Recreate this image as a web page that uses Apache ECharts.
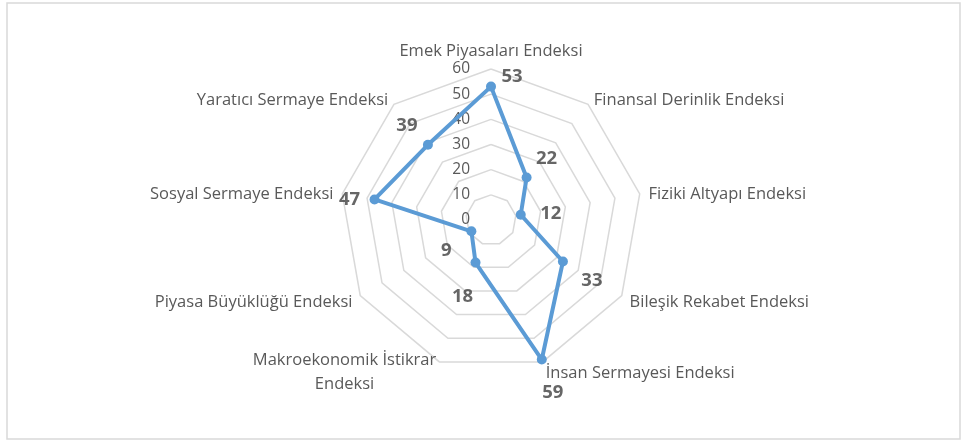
<!DOCTYPE html>
<html>
<head>
<meta charset="utf-8">
<script src="https://cdn.jsdelivr.net/npm/echarts@6/dist/echarts.min.js"></script>
<style>
  html, body { margin: 0; padding: 0; background: #ffffff; }
  #chart { width: 961px; height: 440px; }
</style>
</head>
<body>
<div id="chart"></div>
<script>
// Index names, listed clockwise starting from the top axis
const categories = [
  'Emek Piyasaları Endeksi',
  'Finansal Derinlik Endeksi',
  'Fiziki Altyapı Endeksi',
  'Bileşik Rekabet Endeksi',
  'İnsan Sermayesi Endeksi',
  'Makroekonomik İstikrar\nEndeksi',
  'Piyasa Büyüklüğü Endeksi',
  'Sosyal Sermaye Endeksi',
  'Yaratıcı Sermaye Endeksi'
];
// Score of each index, same order as above
const values = [53, 22, 12, 33, 59, 18, 9, 47, 39];
// Scale of the spokes
const axisMin = 0;
const axisMax = 60;
const axisStep = 10;

// Pixel nudges for the value labels (outward from each point)
const labelOffsets = [
  [21, -10], [20, -19], [30, -1], [29, 19], [11, 33],
  [-13, 34], [-25, 19], [-25, 0], [-21, -19]
];

const FONT = '"Open Sans", "Noto Sans", sans-serif';
const CENTER = [491, 220];
const RADIUS = 151;
const BLUE = '#5b9bd5';
const GREY_TEXT = '#595959';
const NAME_SIZE = 16.5;

// Radar lays out its indicators counter-clockwise, so feed them in reverse
const order = [0].concat(categories.map((_, i) => i).slice(1).reverse());

const chart = echarts.init(document.getElementById('chart'), null, { renderer: 'canvas' });

chart.setOption({
  animation: false,
  backgroundColor: '#ffffff',
  textStyle: { fontFamily: FONT },
  graphic: [{
    type: 'rect',
    shape: { x: 7, y: 3, width: 953, height: 436 },
    style: { fill: 'none', stroke: '#d9d9d9', lineWidth: 1.5 },
    silent: true
  }],
  radar: {
    center: CENTER,
    radius: RADIUS,
    startAngle: 90,
    shape: 'polygon',
    splitNumber: (axisMax - axisMin) / axisStep,
    nameGap: 9,
    axisName: {
      color: GREY_TEXT,
      fontSize: NAME_SIZE,
      fontFamily: FONT,
      formatter: name => {
        const lines = name.split('\n');
        const tag = lines.length > 1 ? 'm' : 'c';
        return lines.map(s => '{' + tag + '|' + s + '}').join('\n');
      },
      rich: {
        c: { align: 'center', verticalAlign: 'bottom', color: GREY_TEXT, fontSize: NAME_SIZE, fontFamily: FONT, lineHeight: 22 },
        m: { align: 'center', color: GREY_TEXT, fontSize: NAME_SIZE, fontFamily: FONT, lineHeight: 24, padding: [4, 0, 0, 0] }
      }
    },
    axisLine: { show: false },
    axisTick: { show: false },
    axisLabel: { show: false },
    splitArea: { show: false },
    splitLine: { lineStyle: { color: '#d9d9d9', width: 1.5 } },
    indicator: order.map((i, k) => {
      const ind = { name: categories[i], min: axisMin, max: axisMax };
      if (k === 0) {
        ind.axisLabel = {
          show: true, color: GREY_TEXT, fontSize: 15.5, fontFamily: FONT, margin: 21,
          padding: [4, 0, 0, 0]
        };
      }
      return ind;
    })
  },
  polar: { center: CENTER, radius: RADIUS },
  angleAxis: {
    type: 'category',
    data: categories,
    startAngle: 90,
    clockwise: true,
    boundaryGap: false,
    axisLine: { show: false },
    axisTick: { show: false },
    axisLabel: { show: false },
    splitLine: { show: false }
  },
  radiusAxis: {
    type: 'value',
    min: axisMin,
    max: axisMax,
    axisLine: { show: false },
    axisTick: { show: false },
    axisLabel: { show: false },
    splitLine: { show: false }
  },
  series: [
    {
      type: 'radar',
      symbol: 'circle',
      symbolSize: 10,
      itemStyle: { color: BLUE },
      lineStyle: { color: BLUE, width: 4 },
      data: [{ value: order.map(i => values[i]), name: 'Endeks' }]
    },
    {
      // Value labels, placed through the matching polar scales
      type: 'scatter',
      coordinateSystem: 'polar',
      symbolSize: 0,
      silent: true,
      z: 5,
      data: values.map((v, i) => ({
        value: [v, i],
        label: { offset: labelOffsets[i] }
      })),
      label: {
        show: true,
        position: 'inside',
        align: 'center',
        verticalAlign: 'middle',
        color: '#404040',
        fontSize: 18.5,
        fontWeight: 'bold',
        fontFamily: FONT,
        formatter: p => String(p.value[0])
      }
    }
  ]
});
</script>
</body>
</html>
